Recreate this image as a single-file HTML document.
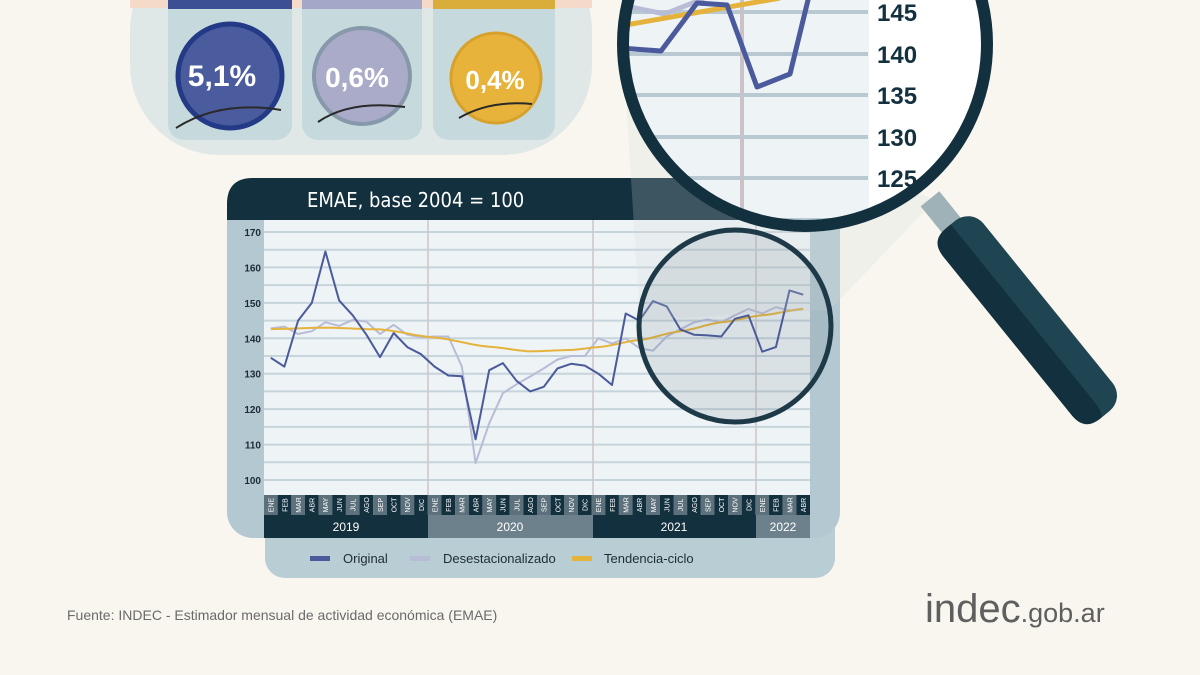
<!DOCTYPE html>
<html><head><meta charset="utf-8"><style>
html,body{margin:0;padding:0;background:#f8f6ef;}
svg{display:block;font-family:"Liberation Sans",sans-serif;}
</style></head><body>
<svg id="s" width="1200" height="675" viewBox="0 0 1200 675" xmlns="http://www.w3.org/2000/svg">
<rect width="1200" height="675" fill="#f8f6ef"/>
<rect x="130" y="-60" width="462" height="215" rx="90" fill="#dfe8e7"/>
<rect x="130" y="0" width="462" height="8" fill="#f5dac9"/>
<rect x="168" y="-20" width="124" height="160" rx="16" fill="#c6dadd"/>
<rect x="302" y="-20" width="120" height="160" rx="16" fill="#c6dadd"/>
<rect x="433" y="-20" width="122" height="160" rx="16" fill="#c6dadd"/>
<rect x="168" y="0" width="124" height="9" fill="#3c4f94"/>
<rect x="302" y="0" width="120" height="9" fill="#a5a7c8"/>
<rect x="433" y="0" width="122" height="9" fill="#d9ad3a"/>
<circle cx="230" cy="76" r="52" fill="#4a5b9e" stroke="#233a86" stroke-width="5"/>
<circle cx="362" cy="76" r="48" fill="#a9abc9" stroke="#8798ab" stroke-width="4"/>
<circle cx="496" cy="78" r="45" fill="#e8b33a" stroke="#d7a22c" stroke-width="3"/>
<g fill="#fff" font-weight="bold" text-anchor="middle">
<text x="222" y="86" font-size="30">5,1%</text>
<text x="357" y="87" font-size="28">0,6%</text>
<text x="495" y="89" font-size="26">0,4%</text></g>
<g fill="none" stroke="#2a2a2a" stroke-width="2">
<path d="M176 128 Q220 100 281 110"/><path d="M318 122 Q350 100 405 107"/><path d="M459 118 Q490 100 532 104"/></g>
<rect x="265" y="430" width="570" height="148" rx="20" fill="#b9cdd5"/>
<rect x="227" y="178" width="613" height="360" rx="26" fill="#b4c8d1"/>
<path d="M253 178 H840 V220 H227 V204 Q227 178 253 178Z" fill="#13303f"/>
<text x="307" y="207" font-size="20" fill="#fff" font-family="'DejaVu Sans Condensed','Liberation Sans Narrow',sans-serif">EMAE, base 2004 = 100</text>
<rect x="264" y="220" width="546" height="275" fill="#eef3f5"/>
<g id="grid"></g>
<g id="axis" font-size="10" font-weight="bold" fill="#1d2c36" text-anchor="end"></g>
<g id="months"></g>
<rect x="264" y="515" width="164" height="23" fill="#13303f"/>
<rect x="428" y="515" width="165" height="23" fill="#6d818c"/>
<rect x="593" y="515" width="163" height="23" fill="#13303f"/>
<rect x="756" y="515" width="54" height="23" fill="#6d818c"/>
<g fill="#fff" font-size="12" text-anchor="middle">
<text x="346" y="531">2019</text><text x="510" y="531">2020</text><text x="674" y="531">2021</text><text x="783" y="531">2022</text></g>
<g id="lines" fill="none" stroke-linejoin="round"></g>
<rect x="310" y="556" width="20" height="5" fill="#4b5a9c"/>
<rect x="410" y="556" width="20" height="5" fill="#b9bcd6"/>
<rect x="572" y="556" width="20" height="5" fill="#e5b33c"/>
<g font-size="13" fill="#1d2c36"><text x="343" y="563">Original</text><text x="443" y="563">Desestacionalizado</text><text x="604" y="563">Tendencia-ciclo</text></g>
<polygon points="624,70 640,320 830,310 935,200" fill="#d4dbdc" opacity="0.22"/>
<circle cx="735" cy="326" r="96" fill="#4b6470" fill-opacity="0.12" stroke="#1e3a48" stroke-width="5"/>
<g transform="translate(935,205) rotate(51)">
<rect x="-8" y="-12" width="40" height="24" fill="#9fb2b8"/>
<rect x="25" y="-26" width="245" height="52" rx="20" fill="#1f4452"/>
<path d="M25 0 H250 Q270 0 270 6 V6 Q270 26 250 26 H45 Q25 26 25 6Z" fill="#13303f"/>
</g>
<defs><clipPath id="bc"><circle cx="805" cy="44" r="182"/></clipPath></defs>
<g clip-path="url(#bc)">
<rect x="600" y="-150" width="420" height="400" fill="#eef3f5"/>
<rect x="869" y="-150" width="150" height="400" fill="#fff"/>
<g stroke="#b8c9d1" stroke-width="4">
<line x1="600" y1="12" x2="868" y2="12"/><line x1="600" y1="54" x2="868" y2="54"/><line x1="600" y1="95" x2="868" y2="95"/><line x1="600" y1="137" x2="868" y2="137"/><line x1="600" y1="178" x2="868" y2="178"/><line x1="600" y1="220" x2="868" y2="220"/></g>
<line x1="742" y1="-150" x2="742" y2="250" stroke="#cbc2c8" stroke-width="4"/>
<polyline points="620,5 665,14 700,0 720,-10" fill="none" stroke="#b9bcd6" stroke-width="5"/>
<polyline points="620,26 780,-2" fill="none" stroke="#e5b33c" stroke-width="5"/>
<polyline points="620,48 661,51 697,3 727,5 757,87 790,74 808,0 815,-20" fill="none" stroke="#4b5a9c" stroke-width="5" stroke-linejoin="round"/>
<g font-size="24" font-weight="bold" fill="#13303f"><text x="877" y="21">145</text><text x="877" y="63">140</text><text x="877" y="104">135</text><text x="877" y="146">130</text><text x="877" y="187">125</text></g>
</g>
<circle cx="805" cy="44" r="182" fill="none" stroke="#13303f" stroke-width="12"/>
<text x="67" y="620" font-size="14" fill="#6a6a6a">Fuente: INDEC - Estimador mensual de actividad económica (EMAE)</text>
<text x="925" y="622" fill="#5f5f5f"><tspan font-size="40">indec</tspan><tspan font-size="27">.gob.ar</tspan></text>
</svg>
<script>
const NS="http://www.w3.org/2000/svg";
function el(p,t,a,txt){const e=document.createElementNS(NS,t);for(const k in a)e.setAttribute(k,a[k]);if(txt)e.textContent=txt;document.getElementById(p).appendChild(e);return e;}
const Y=v=>480-(v-100)*3.543, X=i=>270.8+13.65*i;
for(let v=100;v<=170;v+=5){el("grid","line",{x1:264,x2:810,y1:Y(v),y2:Y(v),stroke:"#c6d4db","stroke-width":2});}
[428,593,756].forEach(x=>el("grid","line",{x1:x,x2:x,y1:220,y2:495,stroke:"#cbc5ca","stroke-width":1.5}));
for(let v=100;v<=170;v+=10)el("axis","text",{x:261,y:Y(v)+4},String(v));
const M=["ENE","FEB","MAR","ABR","MAY","JUN","JUL","AGO","SEP","OCT","NOV","DIC"];
for(let i=0;i<40;i++){const x=264+13.65*i;el("months","rect",{x:x,y:495,width:13.65,height:20,fill:i%2?"#13303f":"#5d717c"});
el("months","text",{x:0,y:0,transform:`translate(${x+9.6},505) rotate(-90)`,"font-size":7,fill:"#fff","text-anchor":"middle"},M[i%12]);}
const orig=[134.5,132,145,150,164.5,150.7,146.5,141,134.7,141.5,137.5,135.5,132,129.5,129.3,111.5,131,133,128,125,126.3,131.5,132.8,132.3,130,126.8,147,145,150.5,149,142.5,141,140.8,140.5,145.5,146.5,136.2,137.5,153.5,152.3];
const des=[142.8,143.3,141.2,142,144.5,143.5,145.2,144.7,141.2,143.8,141,140.3,140.5,140.5,132,104.8,116,124.5,127,129.2,131.5,134,135,135,140,138.5,140,137.2,136.5,140.5,142.5,144.5,145.3,144.5,146.5,148.3,147,148.8,147.8,148.3];
const tk=[[0,142.6],[4,143],[8,142.5],[12,140.2],[16,137.6],[19,136.3],[22,136.7],[24,137.5],[27,139.5],[30,142],[33,144.5],[36,146.5],[39,148.3]];
function interp(t){for(let k=0;k<tk.length-1;k++){const a=tk[k],b=tk[k+1];if(t<=b[0]){const u=(t-a[0])/(b[0]-a[0]);const s=u*u*(3-2*u);return a[1]+(b[1]-a[1])*(0.5*u+0.5*s);}}return tk[tk.length-1][1];}
let tp=[];for(let t=0;t<=39;t+=0.25)tp.push(X(t).toFixed(1)+","+Y(interp(t)).toFixed(1));
const pl=a=>a.map((v,i)=>X(i).toFixed(1)+","+Y(v).toFixed(1)).join(" ");
el("lines","polyline",{points:pl(des),stroke:"#b9bcd6","stroke-width":2});
el("lines","polyline",{points:tp.join(" "),stroke:"#e5b33c","stroke-width":2});
el("lines","polyline",{points:pl(orig),stroke:"#4b5a9c","stroke-width":2});
</script>
</body></html>
